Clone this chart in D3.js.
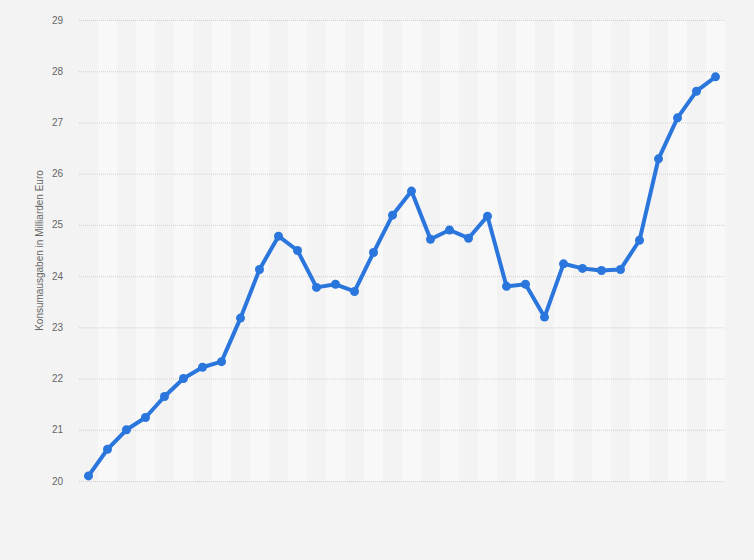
<!DOCTYPE html>
<html>
<head>
<meta charset="utf-8">
<script src="https://cdn.jsdelivr.net/npm/d3@7"></script>
<style>
  body { margin: 0; background: #f3f3f3; }
  svg { display: block; font-family: "Liberation Sans", Arial, sans-serif; }
</style>
</head>
<body>
<div class="chart"></div>
<script>
// periods (no labels shown on the x axis in the original)
const periods = d3.range(1, 35).map(String)
const values = [20.10, 20.62, 21.00, 21.24, 21.65, 22.00, 22.22, 22.33, 23.18, 24.13,
  24.78, 24.50, 23.78, 23.84, 23.70, 24.46, 25.19, 25.66, 24.72, 24.90,
  24.74, 25.17, 23.80, 23.84, 23.20, 24.24, 24.15, 24.11, 24.13, 24.70,
  26.29, 27.09, 27.61, 27.89]
const yTicks = [20, 21, 22, 23, 24, 25, 26, 27, 28, 29]
const yTitle = 'Konsumausgaben in Milliarden Euro'

const width = 754, height = 560
const margin = ({top: 20, right: 29, bottom: 79, left: 79})

const svg = d3.select('.chart').append('svg')
    .attr('width', width)
    .attr('height', height)

svg.append('rect')
    .attr('width', width).attr('height', height)
    .attr('fill', '#f3f3f3')

const x = d3.scaleBand()
    .domain(periods)
    .range([margin.left, width - margin.right])

const y = d3.scaleLinear()
    .domain([20, 29])
    .range([height - margin.bottom, margin.top])

// alternating column bands
svg.append('g')
  .selectAll('rect')
  .data(periods)
  .join('rect')
    .attr('x', d => x(d))
    .attr('y', y(29))
    .attr('width', x.bandwidth())
    .attr('height', y(20) - y(29))
    .attr('fill', (d, i) => i % 2 ? '#f8f8f8' : '#f3f3f3')

// grid lines
svg.append('g')
  .selectAll('line')
  .data(yTicks)
  .join('line')
    .attr('x1', margin.left)
    .attr('x2', width - margin.right)
    .attr('y1', d => y(d) + 0.5)
    .attr('y2', d => y(d) + 0.5)
    .attr('stroke', '#cfcfcf')
    .attr('stroke-dasharray', '1,1')

// y tick labels
svg.append('g')
  .selectAll('text')
  .data(yTicks)
  .join('text')
    .attr('x', 63)
    .attr('y', d => y(d))
    .attr('dy', '0.35em')
    .attr('text-anchor', 'end')
    .attr('font-size', 10)
    .attr('fill', '#666')
    .text(d => d)

svg.append('text')
    .attr('transform', `translate(43,${(y(20) + y(29)) / 2}) rotate(-90)`)
    .attr('text-anchor', 'middle')
    .attr('font-size', 10)
    .attr('fill', '#666')
    .text(yTitle)

const line = d3.line()
    .x((d, i) => x(periods[i]) + x.bandwidth() / 2)
    .y(d => y(d))

svg.append('path')
    .datum(values)
    .attr('d', line)
    .attr('fill', 'none')
    .attr('stroke', '#2a76dd')
    .attr('stroke-width', 4)
    .attr('stroke-linejoin', 'round')

svg.append('g')
  .selectAll('circle')
  .data(values)
  .join('circle')
    .attr('cx', (d, i) => x(periods[i]) + x.bandwidth() / 2)
    .attr('cy', d => y(d))
    .attr('r', 4.5)
    .attr('fill', '#2a76dd')
</script>
</body>
</html>
